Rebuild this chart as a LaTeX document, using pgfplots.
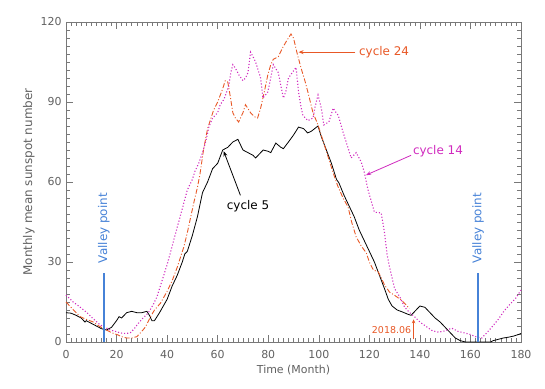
\documentclass[border=0pt]{standalone}
\usepackage{fontspec}
\setmainfont{DejaVu Sans}
\usepackage{pgfplots}
\pgfplotsset{compat=1.18}
\usetikzlibrary{arrows.meta}

\definecolor{c24}{RGB}{232,88,38}
\definecolor{c14}{RGB}{208,42,190}
\definecolor{vblue}{RGB}{70,130,215}
\definecolor{axgray}{RGB}{120,120,120}

\begin{document}
\begin{tikzpicture}
\useasboundingbox (0,0) rectangle (545bp,389bp);
\begin{axis}[
    at={(66bp,47bp)}, anchor=south west,
    scale only axis,
    width=455bp, height=320bp,
    xmin=0, xmax=180, ymin=0, ymax=120,
    xtick={0,20,...,180}, ytick={0,30,...,120},
    minor x tick num=9, minor y tick num=9,
    tick align=inside,
    major tick length=7bp, minor tick length=4bp,
    axis line style={draw=axgray, line width=0.8pt},
    every tick/.style={draw=axgray, line width=0.5pt},
    tick label style={font=\fontsize{11}{13}\selectfont, text=black!62},
    xticklabel style={yshift=-5bp},
    yticklabel style={xshift=-1bp},
    /pgf/number format/assume math mode=true,
    xlabel={Time (Month)},
    ylabel={Monthly mean sunspot number},
    label style={font=\fontsize{11}{13}\selectfont, text=black!62},
    ylabel style={font=\fontsize{12}{14}\selectfont, yshift=-1bp},
    xlabel style={yshift=0bp},
    clip=false,
]
% cycle 5
\addplot[black, line width=0.8pt] coordinates {
(0,11) (2,10.8) (4,10) (6,9) (7.5,7.5) (8,8) (10,7) (12,6) (14,5) (16,4.5)
(18,5.5) (20,8) (21,9.5) (22,9) (24,11) (26,11.5) (28,11) (30,11) (32,11.5)
(33,10) (34,8) (35,8) (37,11) (40,16) (42,21) (44,25) (46,30) (47,33) (48,34)
(50,40) (52,47) (54,56) (56,60) (58,65) (60,67) (62,72) (64,73) (66,75) (68,76)
(69,74) (70,72) (72,71) (74,70) (75,69) (76,70) (78,72) (80,71.5) (81,71)
(83,74.6) (85,73) (86,72.5) (88,75) (90,77.6) (92,80.6) (94,80) (95.6,78.4)
(97,79) (99.7,81) (101,77) (103,72) (105,67) (107,61) (108,59.6) (110,55)
(112,51) (114,47) (116,42) (118,38) (120,34) (122,30) (124,25) (126,20)
(127.5,16) (129,13.5) (131,12) (133,11.3) (135,10.5) (136.5,10) (138,11.5)
(140,13.5) (142,13) (144,11) (146,9) (148,7.5) (150,5.5) (152,3.5) (154,1.5)
(156,0.5) (158,0) (168,0) (169,0.5) (171,1) (173,1.5) (175,1.8) (177,2.2)
(179,2.8) (180,3.2)
};
% cycle 24
\addplot[c24, line width=0.9pt, dash pattern=on 5pt off 2pt on 1pt off 2pt] coordinates {
(0,15) (2,13) (4,11) (5.6,9.5) (8,8.5) (10.8,7.5) (13,6) (16,4.5) (18,3.5)
(20.7,2.6) (22,2) (24,1.5) (26,1.5) (28,2) (30,4) (31.4,5.6) (33.4,9.4) (35,12)
(37.4,14.6) (40,19) (42,23) (44,28) (46.6,35.6) (48,41) (50.5,52) (52,58)
(53,63) (54.4,72) (56,80) (58.4,87) (60,90) (62,95) (63,98) (64,97.5) (65,92)
(66,86) (67,84) (68.3,82.5) (70,86) (71,89) (72,87.5) (73,86) (74.5,84.5)
(75.8,84) (77,87.7) (78.5,94) (79.8,100) (81,104) (82,106) (84,107) (85.5,110)
(87,112.5) (89,115.5) (90,114) (91.5,108) (93,102.7) (94.5,98) (95.7,93.7)
(97.7,86) (99.7,81.4) (101.5,76) (103.5,70) (105.6,63.7) (107.5,58.5)
(109.6,54) (111.6,50.6) (113,45) (114.8,39.4) (116.8,36) (118.8,33.4) (120,30)
(121.6,27) (123.5,26.3) (125,23.5) (126,21.4) (128,18.7) (130,17.5)
(132.7,15.7) (134.5,14) (135.8,12.5)
};
% cycle 14
\addplot[c14, line width=1.1pt, dash pattern=on 1.1pt off 2pt] coordinates {
(0,17.6) (2.8,15) (5,13.5) (8.3,11) (11,8.5) (13.5,6.4) (15.5,5.5) (17.5,4.5)
(19.5,4) (21.5,3.4) (23.5,3.2) (25.4,3.4) (27,5) (28.6,7) (30.5,9) (32.6,11)
(34.5,14) (36,17) (38,23) (40,29) (42,36) (44,43) (46,50) (48,57) (50,61)
(51,64) (52.5,67) (54,71) (55.5,76) (56.5,80.6) (58,84) (60,86) (61,89)
(62.5,91) (64.4,96) (65.2,101) (66,104) (67,102.7) (68.5,100) (70,98) (71,99)
(72,101) (73,108.7) (74,107) (75,105) (76,102) (77,99) (77.9,91.5) (78.8,92.5)
(79.8,93.7) (81,99) (82,104) (83,102.5) (84,101) (85,96) (86,91.5) (87,94)
(88,99) (89.5,101) (91,103) (92,93.7) (93,88) (93.7,85) (95.7,83) (97.7,84)
(98.5,88) (99.7,92.6) (101,87.7) (102,81.4) (103,82) (104,82.5) (105.7,87.7)
(106.5,86.5) (107.7,85) (109.6,78.7) (111.6,72.7) (112.8,69) (113.8,70)
(114.8,71) (116.8,67.5) (118,63.7) (119.5,57) (122,48.7) (124.7,48.4) (126,41)
(127,33) (128,28) (130,20) (132,17) (134,13) (136,11) (138,9.4) (140,7.5)
(143.4,5.2) (145,4.2) (147.4,3.7) (150,4.2) (152.6,5.2) (155,4) (157.7,3.4)
(160,2.8) (162,2) (164.5,1.5) (166.5,3.5) (168.5,5.6) (171,8.5) (173.6,12)
(176,14.5) (178,16.5) (180,19.5)
};
% valley points
\draw[vblue, line width=1.2pt] (axis cs:15,0) -- (axis cs:15,26);
\node[vblue, rotate=90, anchor=west, font=\fontsize{12}{14}\selectfont, inner sep=0pt]
  at (axis cs:15,29.5) {Valley point};
\draw[vblue, line width=1.2pt] (axis cs:163,0) -- (axis cs:163,26);
\node[vblue, rotate=90, anchor=west, font=\fontsize{12}{14}\selectfont, inner sep=0pt]
  at (axis cs:163,29.5) {Valley point};
% labels and arrows
\draw[c24, line width=0.9pt, -{Stealth[length=5bp,width=4bp]}] (axis cs:114.5,108.7) -- (axis cs:92,108.7);
\node[c24, anchor=west, font=\fontsize{12}{14}\selectfont, inner sep=1pt] at (axis cs:115.5,108.7) {cycle 24};
\draw[c14, line width=0.8pt, -{Stealth[length=5bp,width=4bp]}] (axis cs:136.5,70) -- (axis cs:118.7,62.6);
\node[c14, anchor=south west, font=\fontsize{12}{14}\selectfont, inner sep=1pt] at (axis cs:136.8,69) {cycle 14};
\draw[black, line width=0.8pt, -{Stealth[length=5bp,width=4bp]}] (axis cs:69,55) -- (axis cs:62.4,71.5);
\node[black, font=\fontsize{12}{14}\selectfont] at (axis cs:72,51) {cycle 5};
\draw[c24, line width=1.1pt, -{Stealth[length=4bp,width=3.5bp]}] (axis cs:137.5,1) -- (axis cs:137.5,8.5);
\node[c24, anchor=east, font=\fontsize{9.5}{11}\selectfont, inner sep=1pt] at (axis cs:137,4.5) {2018.06};
\end{axis}
\end{tikzpicture}
\end{document}
